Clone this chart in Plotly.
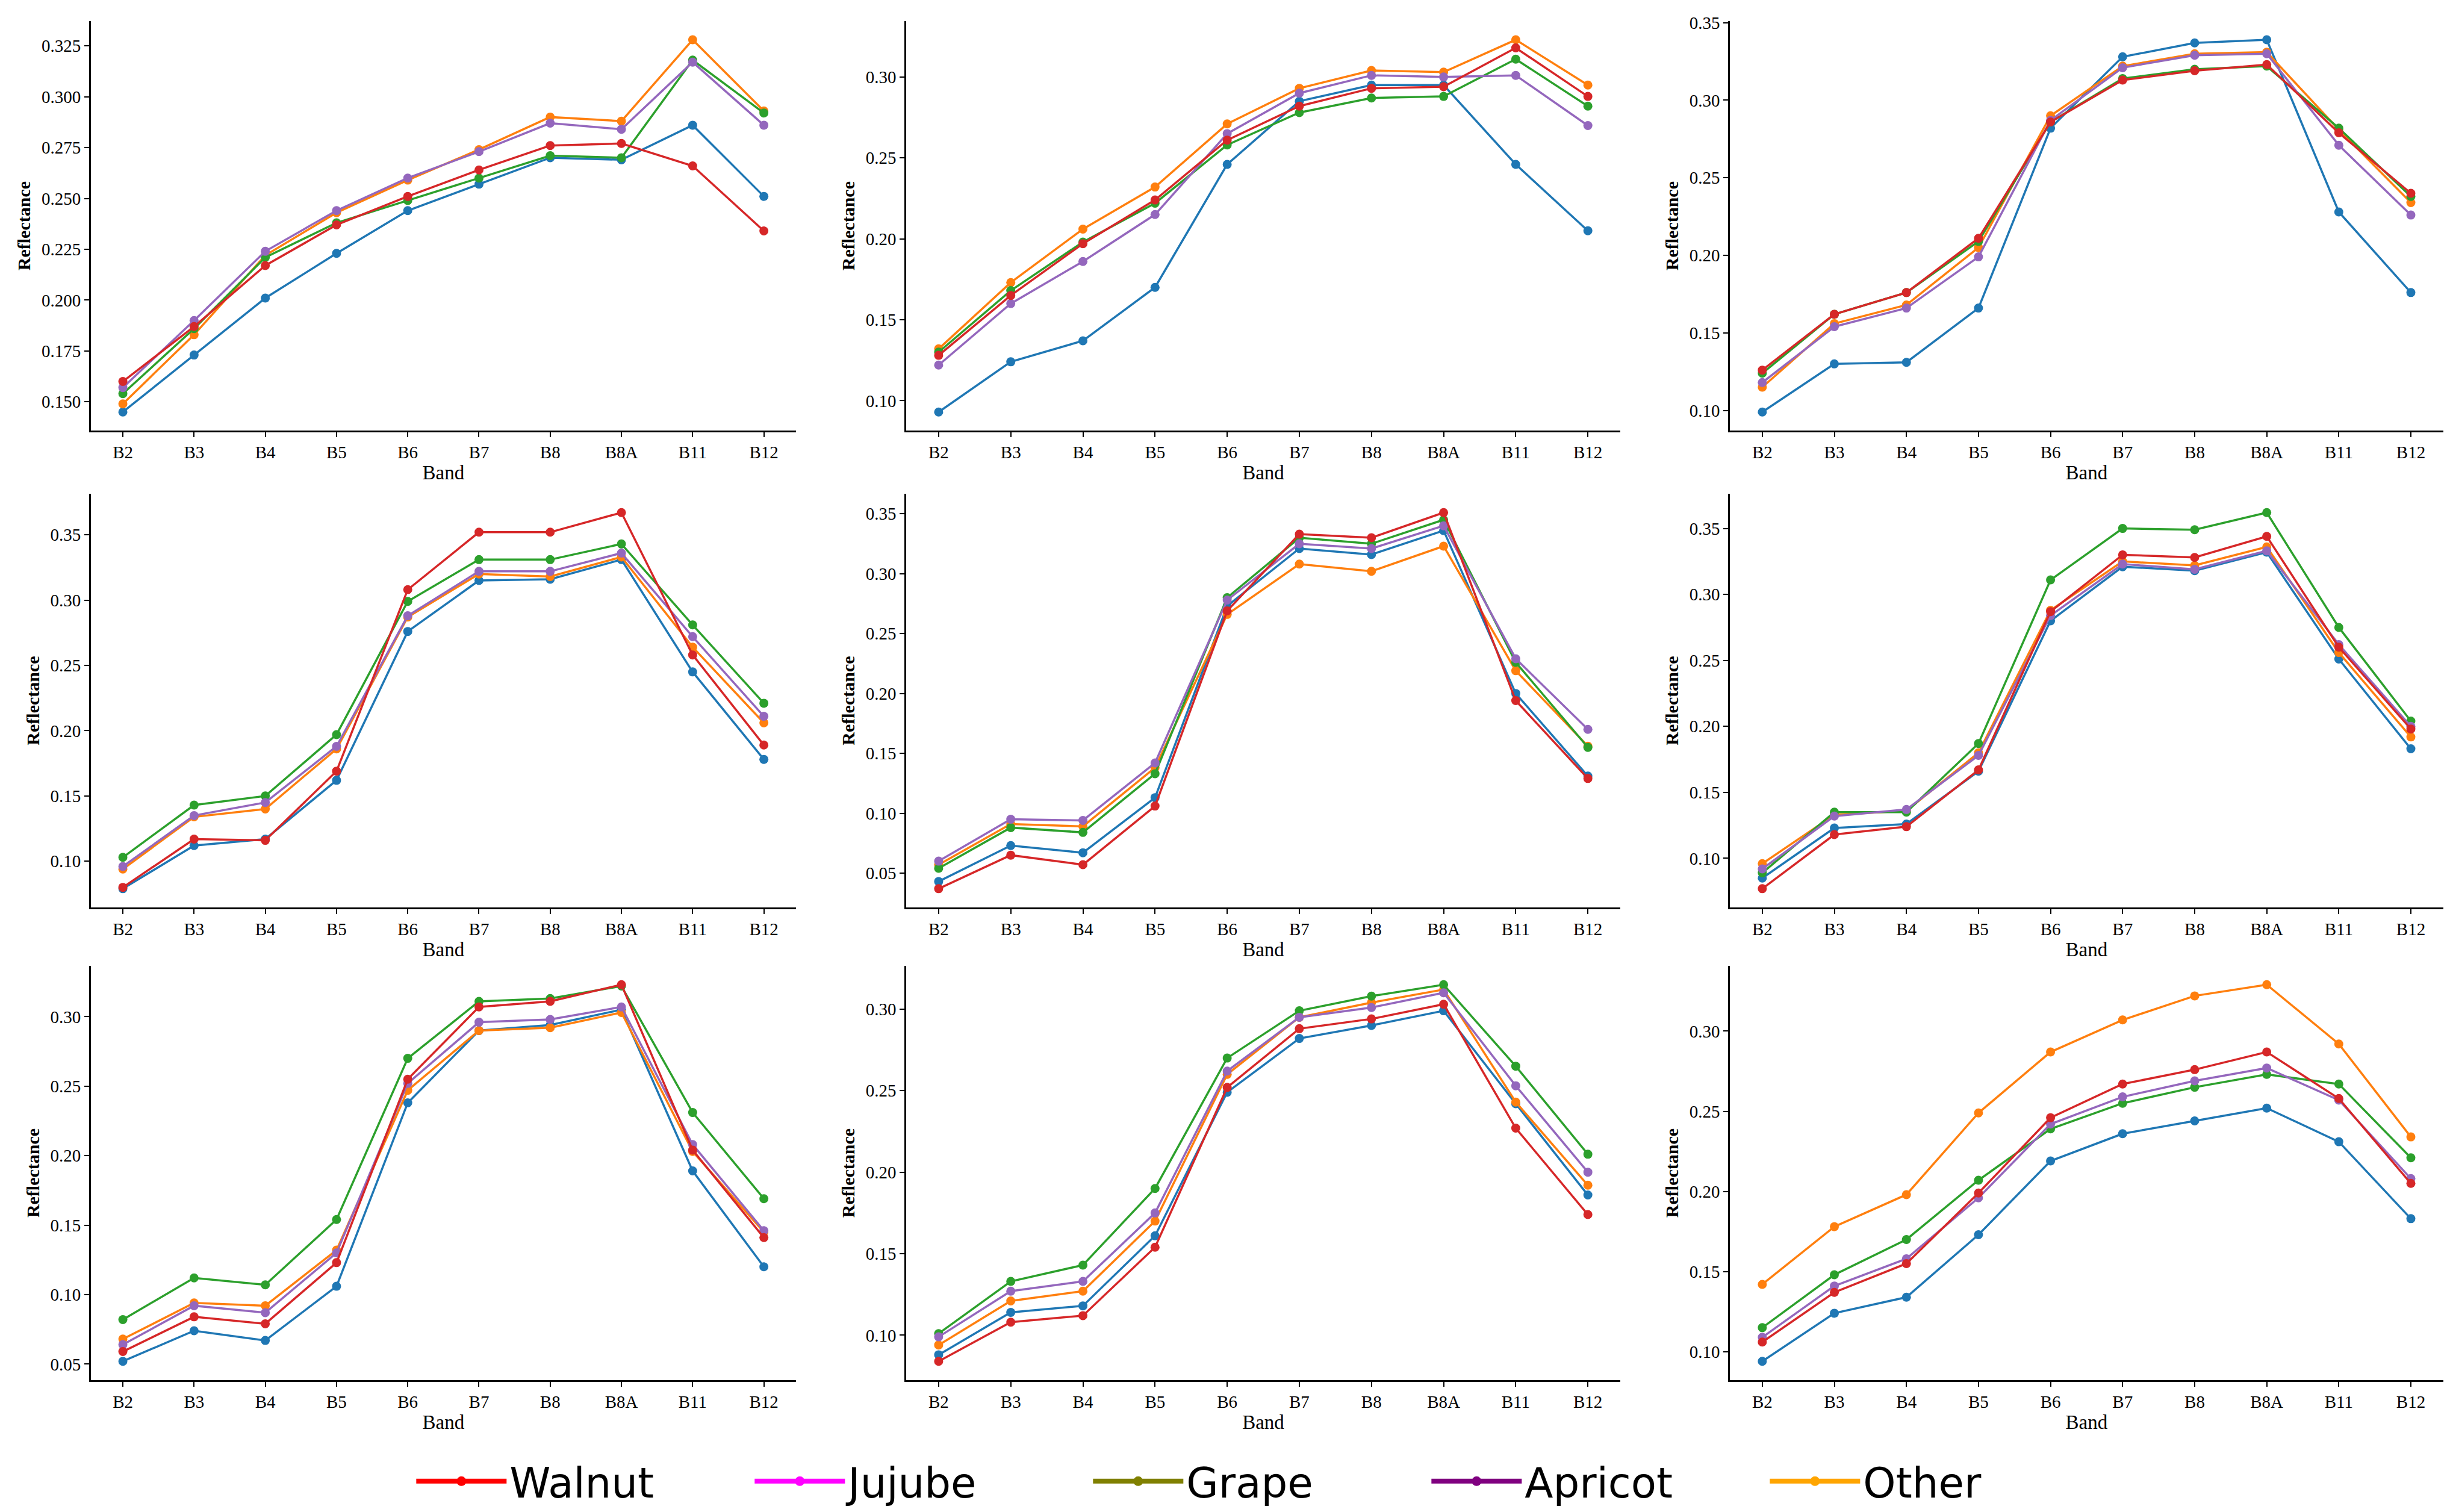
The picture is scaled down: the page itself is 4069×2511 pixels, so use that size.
import plotly.graph_objects as go

bands = ["B2", "B3", "B4", "B5", "B6", "B7", "B8", "B8A", "B11", "B12"]

# Panel 1
p1_red    = [0.160, 0.187, 0.217, 0.237, 0.251, 0.264, 0.276, 0.277, 0.266, 0.234]
p1_purple = [0.157, 0.190, 0.224, 0.244, 0.260, 0.273, 0.287, 0.284, 0.317, 0.286]
p1_green  = [0.154, 0.186, 0.221, 0.238, 0.249, 0.260, 0.271, 0.270, 0.318, 0.292]
p1_blue   = [0.145, 0.173, 0.201, 0.223, 0.244, 0.257, 0.270, 0.269, 0.286, 0.251]
p1_orange = [0.149, 0.183, 0.222, 0.243, 0.259, 0.274, 0.290, 0.288, 0.328, 0.293]
# Panel 2
p2_red    = [0.128, 0.165, 0.197, 0.224, 0.261, 0.282, 0.293, 0.294, 0.318, 0.288]
p2_purple = [0.122, 0.160, 0.186, 0.215, 0.265, 0.290, 0.301, 0.300, 0.301, 0.270]
p2_green  = [0.130, 0.168, 0.198, 0.222, 0.258, 0.278, 0.287, 0.288, 0.311, 0.282]
p2_blue   = [0.093, 0.124, 0.137, 0.170, 0.246, 0.285, 0.295, 0.295, 0.246, 0.205]
p2_orange = [0.132, 0.173, 0.206, 0.232, 0.271, 0.293, 0.304, 0.303, 0.323, 0.295]
# Panel 3
p3_red    = [0.126, 0.162, 0.176, 0.211, 0.286, 0.313, 0.319, 0.323, 0.279, 0.240]
p3_purple = [0.118, 0.154, 0.166, 0.199, 0.287, 0.321, 0.329, 0.330, 0.271, 0.226]
p3_green  = [0.124, 0.162, 0.176, 0.209, 0.286, 0.314, 0.320, 0.322, 0.282, 0.238]
p3_blue   = [0.099, 0.130, 0.131, 0.166, 0.282, 0.328, 0.337, 0.339, 0.228, 0.176]
p3_orange = [0.115, 0.156, 0.168, 0.205, 0.290, 0.322, 0.330, 0.331, 0.281, 0.234]
# Panel 4
p4_red    = [0.080, 0.117, 0.116, 0.169, 0.308, 0.352, 0.352, 0.367, 0.258, 0.189]
p4_purple = [0.096, 0.135, 0.145, 0.188, 0.288, 0.322, 0.322, 0.336, 0.272, 0.211]
p4_green  = [0.103, 0.143, 0.150, 0.197, 0.299, 0.331, 0.331, 0.343, 0.281, 0.221]
p4_blue   = [0.079, 0.112, 0.117, 0.162, 0.276, 0.315, 0.316, 0.331, 0.245, 0.178]
p4_orange = [0.094, 0.134, 0.140, 0.186, 0.287, 0.320, 0.318, 0.333, 0.264, 0.206]
# Panel 5
p5_red    = [0.037, 0.065, 0.057, 0.106, 0.269, 0.333, 0.330, 0.351, 0.194, 0.129]
p5_purple = [0.060, 0.095, 0.094, 0.142, 0.278, 0.325, 0.321, 0.340, 0.229, 0.170]
p5_green  = [0.054, 0.088, 0.084, 0.133, 0.280, 0.330, 0.325, 0.345, 0.226, 0.155]
p5_blue   = [0.043, 0.073, 0.067, 0.113, 0.273, 0.321, 0.316, 0.336, 0.200, 0.131]
p5_orange = [0.057, 0.091, 0.089, 0.138, 0.266, 0.308, 0.302, 0.323, 0.219, 0.156]
# Panel 6
p6_red    = [0.077, 0.118, 0.124, 0.167, 0.287, 0.330, 0.328, 0.344, 0.260, 0.198]
p6_purple = [0.092, 0.132, 0.137, 0.178, 0.284, 0.323, 0.319, 0.333, 0.262, 0.200]
p6_green  = [0.089, 0.135, 0.135, 0.187, 0.311, 0.350, 0.349, 0.362, 0.275, 0.204]
p6_blue   = [0.085, 0.123, 0.126, 0.166, 0.280, 0.321, 0.318, 0.332, 0.251, 0.183]
p6_orange = [0.096, 0.133, 0.136, 0.180, 0.288, 0.325, 0.322, 0.336, 0.256, 0.192]
# Panel 7
p7_red    = [0.059, 0.084, 0.079, 0.123, 0.255, 0.307, 0.311, 0.323, 0.204, 0.141]
p7_purple = [0.064, 0.092, 0.087, 0.130, 0.252, 0.296, 0.298, 0.307, 0.208, 0.146]
p7_green  = [0.082, 0.112, 0.107, 0.154, 0.270, 0.311, 0.313, 0.322, 0.231, 0.169]
p7_blue   = [0.052, 0.074, 0.067, 0.106, 0.238, 0.290, 0.294, 0.305, 0.189, 0.120]
p7_orange = [0.068, 0.094, 0.092, 0.132, 0.247, 0.290, 0.292, 0.303, 0.203, 0.145]
# Panel 8
p8_red    = [0.084, 0.108, 0.112, 0.154, 0.252, 0.288, 0.294, 0.303, 0.227, 0.174]
p8_purple = [0.099, 0.127, 0.133, 0.175, 0.262, 0.295, 0.301, 0.310, 0.253, 0.200]
p8_green  = [0.101, 0.133, 0.143, 0.190, 0.270, 0.299, 0.308, 0.315, 0.265, 0.211]
p8_blue   = [0.088, 0.114, 0.118, 0.161, 0.249, 0.282, 0.290, 0.299, 0.242, 0.186]
p8_orange = [0.094, 0.121, 0.127, 0.170, 0.260, 0.295, 0.304, 0.312, 0.243, 0.192]
# Panel 9
p9_red    = [0.106, 0.137, 0.155, 0.199, 0.246, 0.267, 0.276, 0.287, 0.258, 0.205]
p9_purple = [0.109, 0.141, 0.158, 0.196, 0.242, 0.259, 0.269, 0.277, 0.257, 0.208]
p9_green  = [0.115, 0.148, 0.170, 0.207, 0.239, 0.255, 0.265, 0.273, 0.267, 0.221]
p9_blue   = [0.094, 0.124, 0.134, 0.173, 0.219, 0.236, 0.244, 0.252, 0.231, 0.183]
p9_orange = [0.142, 0.178, 0.198, 0.249, 0.287, 0.307, 0.322, 0.329, 0.292, 0.234]

legend_names = ["Walnut", "Jujube", "Grape", "Apricot", "Other"]
legend_colors = ["#ff0000", "#ff00ff", "#808000", "#800080", "#ffa500"]

line_colors = {"blue": "#1f77b4", "orange": "#ff7f0e", "green": "#2ca02c",
               "purple": "#9467bd", "red": "#d62728"}
series_names = {"red": "Walnut", "purple": "Jujube", "green": "Grape",
                "blue": "Apricot", "orange": "Other"}
draw_order = ["blue", "orange", "green", "purple", "red"]

panels = [
    {"red": p1_red, "purple": p1_purple, "green": p1_green, "blue": p1_blue, "orange": p1_orange},
    {"red": p2_red, "purple": p2_purple, "green": p2_green, "blue": p2_blue, "orange": p2_orange},
    {"red": p3_red, "purple": p3_purple, "green": p3_green, "blue": p3_blue, "orange": p3_orange},
    {"red": p4_red, "purple": p4_purple, "green": p4_green, "blue": p4_blue, "orange": p4_orange},
    {"red": p5_red, "purple": p5_purple, "green": p5_green, "blue": p5_blue, "orange": p5_orange},
    {"red": p6_red, "purple": p6_purple, "green": p6_green, "blue": p6_blue, "orange": p6_orange},
    {"red": p7_red, "purple": p7_purple, "green": p7_green, "blue": p7_blue, "orange": p7_orange},
    {"red": p8_red, "purple": p8_purple, "green": p8_green, "blue": p8_blue, "orange": p8_orange},
    {"red": p9_red, "purple": p9_purple, "green": p9_green, "blue": p9_blue, "orange": p9_orange},
]
y_dticks = [0.025, 0.05, 0.05, 0.05, 0.05, 0.05, 0.05, 0.05, 0.05]
y_formats = [".3f", ".2f", ".2f", ".2f", ".2f", ".2f", ".2f", ".2f", ".2f"]

col_domains = [(0.0351, 0.3229), (0.3679, 0.6594), (0.7041, 0.9953)]
row_domains = [(0.7184, 0.9892), (0.4030, 0.6766), (0.0904, 0.3644)]

W, H = 4069, 2511
fig = go.Figure()
serif = "Liberation Serif, Times New Roman, serif"

layout_axes = {}
for i, pdata in enumerate(panels):
    r, c = divmod(i, 3)
    xa = "x" if i == 0 else f"x{i+1}"
    ya = "y" if i == 0 else f"y{i+1}"
    for key in draw_order:
        fig.add_trace(go.Scatter(
            x=bands, y=pdata[key], mode="lines+markers",
            name=series_names[key], showlegend=False,
            line=dict(color=line_colors[key], width=3.5),
            marker=dict(color=line_colors[key], size=15),
            xaxis=xa, yaxis=ya))
    allv = [v for k in pdata for v in pdata[k]]
    lo, hi = min(allv), max(allv)
    pad = (hi - lo) * 0.05
    xname = "xaxis" if i == 0 else f"xaxis{i+1}"
    yname = "yaxis" if i == 0 else f"yaxis{i+1}"
    layout_axes[xname] = dict(
        domain=list(col_domains[c]), anchor=ya, type="category",
        categoryorder="array", categoryarray=bands,
        range=[-0.45, len(bands) - 1 + 0.45],
        showline=True, linecolor="black", linewidth=2.5, mirror=False,
        ticks="outside", ticklen=8, tickwidth=2, tickcolor="black",
        showgrid=False, zeroline=False, automargin=False,
        tickfont=dict(family=serif, size=29, color="black"),
        title=dict(text="Band", font=dict(family=serif, size=33, color="black"), standoff=8),
    )
    layout_axes[yname] = dict(
        domain=list(row_domains[r]), anchor=xa,
        range=[lo - pad, hi + pad], dtick=y_dticks[i], tick0=0, tickformat=y_formats[i],
        showline=True, linecolor="black", linewidth=2.5, mirror=False,
        ticks="outside", ticklen=8, tickwidth=2, tickcolor="black",
        showgrid=False, zeroline=False, automargin=False,
        tickfont=dict(family=serif, size=29, color="black"),
        title=dict(text="<b>Reflectance</b>", font=dict(family=serif, size=30, color="black"), standoff=10),
    )

for name, col in zip(legend_names, legend_colors):
    fig.add_trace(go.Scatter(
        x=[None], y=[None], mode="lines+markers", name=name,
        line=dict(color=col, width=8), marker=dict(color=col, size=36),
        showlegend=True, xaxis="x", yaxis="y"))

fig.update_layout(
    width=W, height=H,
    margin=dict(l=0, r=0, t=0, b=0),
    paper_bgcolor="white", plot_bgcolor="white",
    showlegend=True,
    legend=dict(orientation="h", x=0.512, xanchor="center", y=0.0235, yanchor="middle",
                font=dict(family="DejaVu Sans", size=69, color="black"),
                itemsizing="trace", itemwidth=150, entrywidth=397, entrywidthmode="pixels",
                bgcolor="rgba(0,0,0,0)"),
    **layout_axes,
)

fig.write_html("out.html")
